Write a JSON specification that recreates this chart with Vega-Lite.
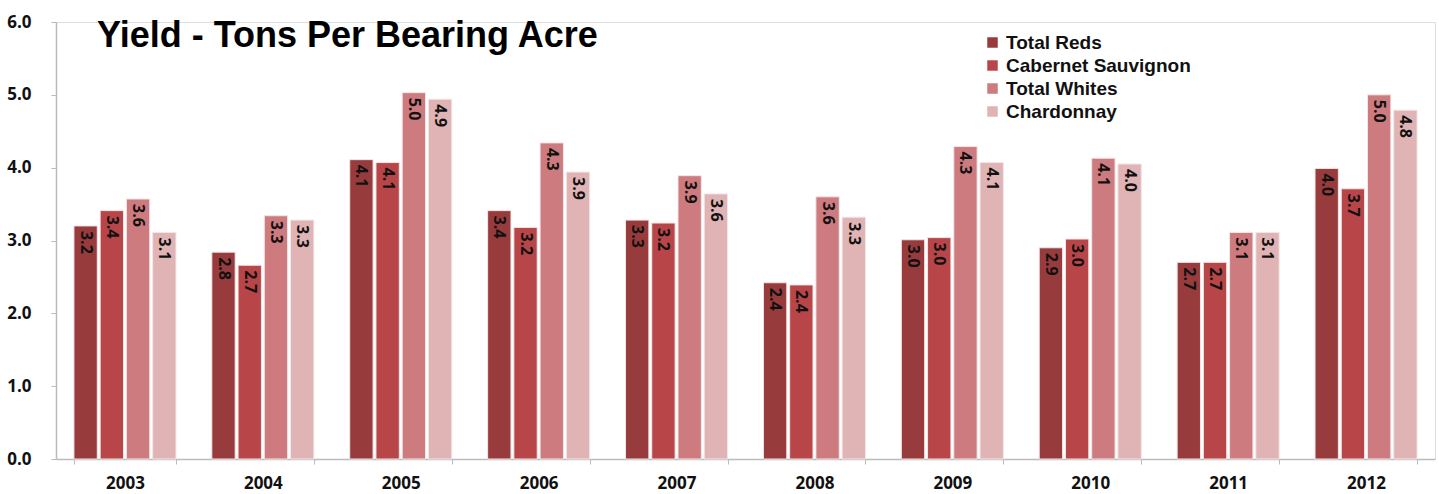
{
  "$schema": "https://vega.github.io/schema/vega-lite/v6.json",
  "width": 1379,
  "height": 437,
  "autosize": {"type": "none"},
  "padding": {"left": 56, "top": 22, "right": 4, "bottom": 35},
  "background": "white",
  "title": {
    "text": "Yield - Tons Per Bearing Acre",
    "anchor": "start",
    "orient": "top",
    "frame": "group",
    "font": "Liberation Sans",
    "fontSize": 36,
    "fontWeight": "bold",
    "color": "#000000",
    "baseline": "alphabetic",
    "dx": 41,
    "dy": 70,
    "offset": 0
  },
  "data": {
    "values": [
      {"year": "2003", "series": "Total Reds", "v": 3.20},
      {"year": "2003", "series": "Cabernet Sauvignon", "v": 3.41},
      {"year": "2003", "series": "Total Whites", "v": 3.57},
      {"year": "2003", "series": "Chardonnay", "v": 3.11},
      {"year": "2004", "series": "Total Reds", "v": 2.84},
      {"year": "2004", "series": "Cabernet Sauvignon", "v": 2.66},
      {"year": "2004", "series": "Total Whites", "v": 3.34},
      {"year": "2004", "series": "Chardonnay", "v": 3.28},
      {"year": "2005", "series": "Total Reds", "v": 4.11},
      {"year": "2005", "series": "Cabernet Sauvignon", "v": 4.07},
      {"year": "2005", "series": "Total Whites", "v": 5.03},
      {"year": "2005", "series": "Chardonnay", "v": 4.94},
      {"year": "2006", "series": "Total Reds", "v": 3.41},
      {"year": "2006", "series": "Cabernet Sauvignon", "v": 3.18},
      {"year": "2006", "series": "Total Whites", "v": 4.34},
      {"year": "2006", "series": "Chardonnay", "v": 3.94},
      {"year": "2007", "series": "Total Reds", "v": 3.28},
      {"year": "2007", "series": "Cabernet Sauvignon", "v": 3.24},
      {"year": "2007", "series": "Total Whites", "v": 3.89},
      {"year": "2007", "series": "Chardonnay", "v": 3.64},
      {"year": "2008", "series": "Total Reds", "v": 2.42},
      {"year": "2008", "series": "Cabernet Sauvignon", "v": 2.39},
      {"year": "2008", "series": "Total Whites", "v": 3.60},
      {"year": "2008", "series": "Chardonnay", "v": 3.32},
      {"year": "2009", "series": "Total Reds", "v": 3.01},
      {"year": "2009", "series": "Cabernet Sauvignon", "v": 3.04},
      {"year": "2009", "series": "Total Whites", "v": 4.29},
      {"year": "2009", "series": "Chardonnay", "v": 4.07},
      {"year": "2010", "series": "Total Reds", "v": 2.90},
      {"year": "2010", "series": "Cabernet Sauvignon", "v": 3.02},
      {"year": "2010", "series": "Total Whites", "v": 4.13},
      {"year": "2010", "series": "Chardonnay", "v": 4.05},
      {"year": "2011", "series": "Total Reds", "v": 2.70},
      {"year": "2011", "series": "Cabernet Sauvignon", "v": 2.70},
      {"year": "2011", "series": "Total Whites", "v": 3.11},
      {"year": "2011", "series": "Chardonnay", "v": 3.11},
      {"year": "2012", "series": "Total Reds", "v": 3.99},
      {"year": "2012", "series": "Cabernet Sauvignon", "v": 3.71},
      {"year": "2012", "series": "Total Whites", "v": 5.00},
      {"year": "2012", "series": "Chardonnay", "v": 4.79}
    ]
  },
  "encoding": {
    "x": {
      "field": "year",
      "type": "nominal",
      "title": null,
      "scale": {"paddingInner": 0.26, "paddingOuter": 0.13},
      "axis": {
        "labelAngle": 0,
        "labelFont": "Open Sans",
        "labelFontSize": 17,
        "labelFontWeight": "bold",
        "labelColor": "#111111",
        "labelPadding": 11,
        "domainColor": "#bbbbbb",
        "domainWidth": 1.5,
        "tickColor": "#bbbbbb",
        "tickSize": 5,
        "tickBand": "extent"
      }
    },
    "xOffset": {
      "field": "series",
      "type": "nominal",
      "sort": ["Total Reds", "Cabernet Sauvignon", "Total Whites", "Chardonnay"],
      "scale": {"paddingInner": 0.11}
    },
    "y": {
      "field": "v",
      "type": "quantitative",
      "title": null,
      "scale": {"domain": [0, 6], "nice": false},
      "axis": {
        "values": [0, 1, 2, 3, 4, 5, 6],
        "format": ".1f",
        "grid": false,
        "labelFont": "Open Sans",
        "labelFontSize": 17,
        "labelFontWeight": "bold",
        "labelColor": "#111111",
        "labelPadding": 20,
        "domainColor": "#bbbbbb",
        "domainWidth": 1.5,
        "tickColor": "#bbbbbb",
        "tickSize": 5
      }
    }
  },
  "layer": [
    {
      "mark": {"type": "bar", "stroke": "#f4e6e6", "strokeWidth": 1},
      "encoding": {
        "color": {
          "field": "series",
          "type": "nominal",
          "sort": ["Total Reds", "Cabernet Sauvignon", "Total Whites", "Chardonnay"],
          "scale": {
            "domain": ["Total Reds", "Cabernet Sauvignon", "Total Whites", "Chardonnay"],
            "range": ["#983b3d", "#b84548", "#cd7b7e", "#e0b3b4"]
          },
          "legend": {
            "title": null,
            "orient": "none",
            "legendX": 927,
            "legendY": 11,
            "symbolType": "square",
            "symbolSize": 110,
            "symbolStrokeWidth": 0,
            "labelFont": "Liberation Sans",
            "labelFontSize": 19,
            "labelFontWeight": "bold",
            "labelColor": "#111111",
            "labelOffset": 4,
            "labelLimit": 400,
            "rowPadding": 3
          }
        }
      }
    },
    {
      "mark": {
        "type": "text",
        "angle": 90,
        "align": "left",
        "baseline": "middle",
        "dx": 5,
        "font": "Open Sans",
        "fontSize": 16,
        "fontWeight": "bold",
        "color": "#111111"
      },
      "encoding": {
        "text": {"field": "v", "type": "quantitative", "format": ".1f"}
      }
    }
  ]
}
